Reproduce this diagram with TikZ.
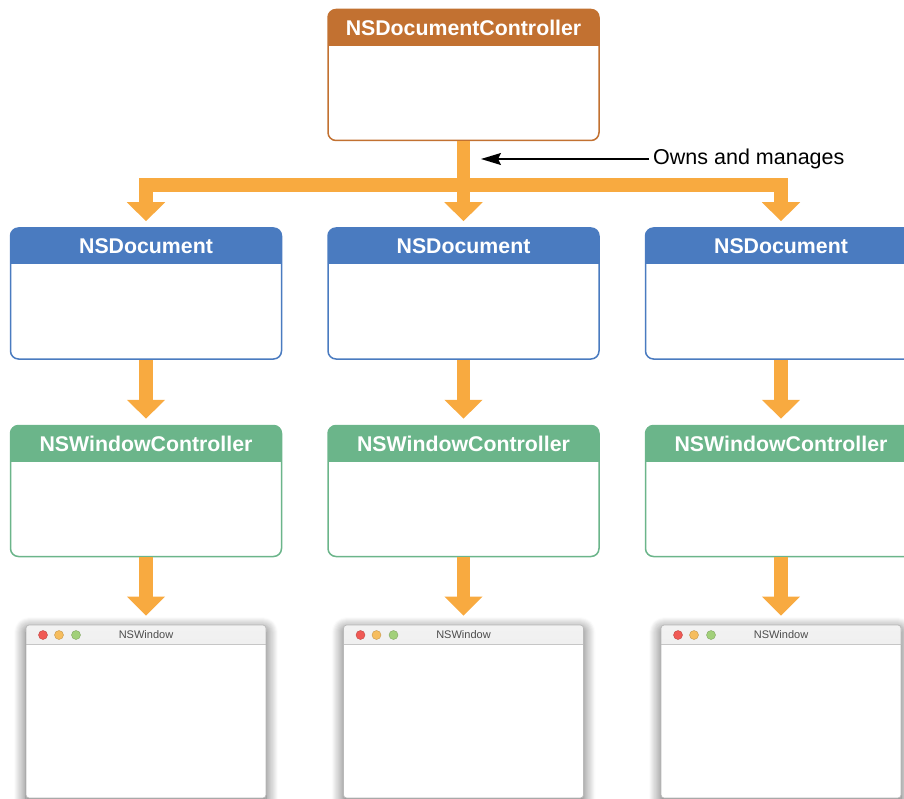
\documentclass[tikz,border=0pt]{standalone}
\usepackage{fontspec}
\setmainfont{Liberation Sans}
\usetikzlibrary{arrows.meta,shadows.blur,calc}

\definecolor{ctrlorange}{HTML}{C27131}
\definecolor{docblue}{HTML}{4A7BC0}
\definecolor{wcgreen}{HTML}{6BB58A}
\definecolor{flowarrow}{HTML}{F8AA40}
\definecolor{lightred}{HTML}{F05A55}
\definecolor{lightyellow}{HTML}{F6BD5E}
\definecolor{lightgreen}{HTML}{A2D07A}

\tikzset{
  classbox/.style={draw=#1, fill=white, line width=1.5pt, rounded corners=8pt,
    minimum width=271pt, minimum height=131pt, inner sep=0pt,
    path picture={\fill[#1, sharp corners] (path picture bounding box.north west)
      rectangle ([yshift=-36.5pt]path picture bounding box.north east);}},
  classtitle/.style={text=white, font=\fontsize{21.3}{24}\selectfont\bfseries, inner sep=0pt},
  flow/.style={draw=flowarrow, line width=13.5pt, line join=miter,
    -{Triangle[length=19pt,width=37pt]}},
  flowbar/.style={draw=flowarrow, line width=13.5pt, line join=miter},
  winbox/.style={draw=gray!55, fill=white, line width=0.8pt, rounded corners=3pt,
    minimum width=240pt, minimum height=173pt, inner sep=0pt,
    blur shadow={shadow xshift=0pt, shadow yshift=-4pt, shadow blur radius=12pt,
      shadow opacity=65, shadow scale=1.0, shadow blur steps=12},
    path picture={\shade[sharp corners, top color=gray!10, bottom color=gray!28]
      (path picture bounding box.north west)
      rectangle ([yshift=-19pt]path picture bounding box.north east);
      \draw[gray!45, line width=0.8pt] ([yshift=-19pt]path picture bounding box.north west)
      -- ([yshift=-19pt]path picture bounding box.north east);}},
  wintitle/.style={text=black!70, font=\fontsize{11}{13}\selectfont, inner sep=0pt},
  winlight/.style={circle, inner sep=0pt, minimum size=9pt, line width=0.4pt},
}

\begin{document}
\begin{tikzpicture}[x=1pt, y=-1pt]
\clip (0,0) rectangle (904,799);

% document controller
\node[classbox=ctrlorange] (dc) at (463.5,75) {};
\node[classtitle] (dct) at (463.5,27.5) {NSDocumentController};

% one column per document: document, window controller, window
\foreach \n/\cx in {1/146, 2/463.5, 3/781} {
  \node[classbox=docblue] (doc\n) at (\cx,293.5) {};
  \node[classtitle] (doct\n) at (\cx,246) {NSDocument};
  \node[classbox=wcgreen] (wc\n) at (\cx,491) {};
  \node[classtitle] (wct\n) at (\cx,443.5) {NSWindowController};
  \node[winbox] (win\n) at (\cx,711.5) {};
  \node[wintitle] (wint\n) at (\cx,635) {NSWindow};
  \node[winlight, fill=lightred, draw=lightred!80!black] (wr\n) at (\cx-103,635) {};
  \node[winlight, fill=lightyellow, draw=lightyellow!80!black] (wy\n) at (\cx-87,635) {};
  \node[winlight, fill=lightgreen, draw=lightgreen!80!black] (wg\n) at (\cx-70,635) {};
  \draw[flow, shorten >=6pt] (doc\n.south) -- (wc\n.north);
  \draw[flow, shorten >=9pt] (wc\n.south) -- (win\n.north);
}

% ownership fan-out from the controller
\coordinate (hub) at (463.5,185);
\draw[flowbar] (dc.south) -- (hub);
\draw[flow, shorten >=6pt] (hub) -| (doc1.north);
\draw[flow, shorten >=6pt] (hub) -- (doc2.north);
\draw[flow, shorten >=6pt] (hub) -| (doc3.north);

% annotation
\node[anchor=west, font=\fontsize{21.5}{24}\selectfont, inner sep=4pt] (owns) at (649,159) {Owns and manages};
\coordinate (ownstip) at (481,159);
\draw[line width=1.5pt, -{Stealth[length=20pt,width=12pt,inset=3pt]}] (owns.west) -- (ownstip);
\end{tikzpicture}
\end{document}
